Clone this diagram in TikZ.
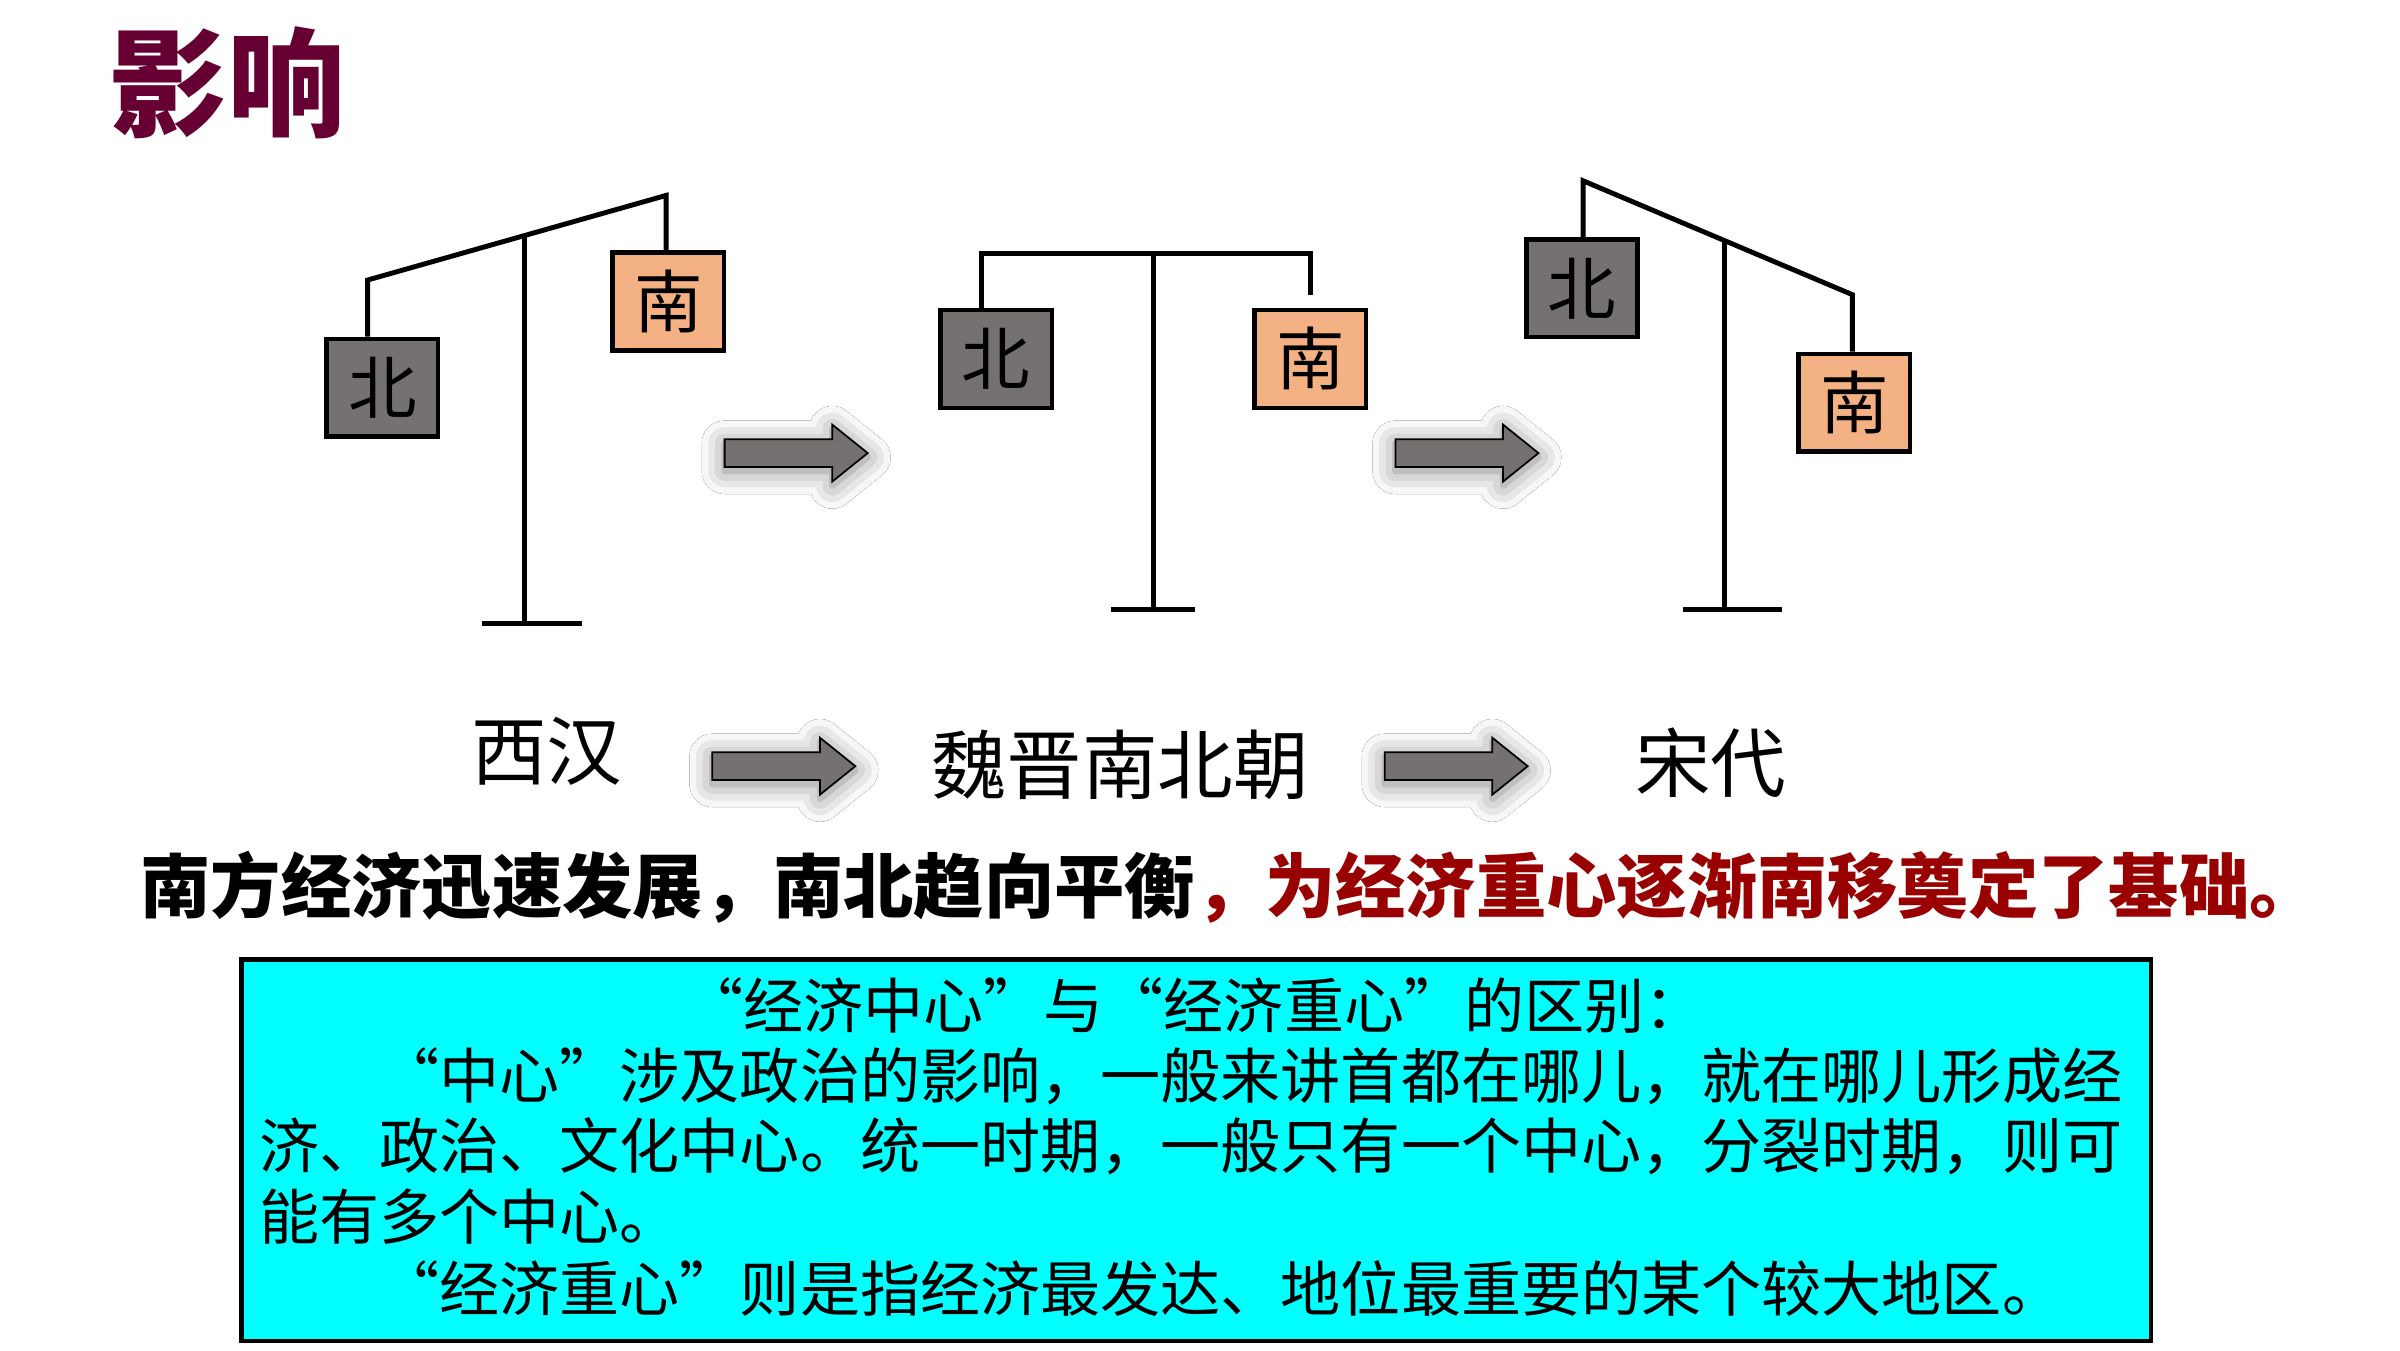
\documentclass[tikz,border=0pt]{standalone}
\usepackage{fontspec}
\setmainfont{Noto Sans CJK SC}
\newfontfamily\notefont[RawFeature=+fwid]{Noto Sans CJK SC}
\usetikzlibrary{shadows.blur}

\definecolor{titlered}{HTML}{660033}
\definecolor{sumred}{HTML}{990000}
\definecolor{northgray}{HTML}{767171}
\definecolor{southorange}{HTML}{F4B183}
\definecolor{notecyan}{HTML}{00FFFF}

\tikzset{
  beam/.style={line width=1.4pt, line join=miter},
  weight/.style={draw, line width=1.3pt, minimum width=31.7pt, minimum height=27.8pt,
    inner sep=0pt, text height=17.2pt, text depth=2.4pt, font=\fontsize{19.5}{19.5}\selectfont},
  northbox/.style={weight, fill=northgray},
  southbox/.style={weight, fill=southorange},
  fatarrow/.style={fill=northgray, draw=black, line width=0.5pt,
    blur shadow={shadow xshift=0pt, shadow yshift=-1.2pt, shadow blur radius=6.5pt, shadow opacity=50}},
  headline/.style={inner sep=0pt, text=titlered, text height=29.5pt, text depth=4pt,
    font=\fontsize{33.5}{33.5}\selectfont\bfseries},
  era/.style={inner sep=0pt, text height=18.9pt, text depth=2.6pt, font=\fontsize{21.5}{21.5}\selectfont},
  summary/.style={inner sep=0pt, text height=17.6pt, text depth=2.4pt, font=\fontsize{20}{20}\selectfont\bfseries},
  notebox/.style={fill=notecyan, draw=black, line width=1.3pt},
  noteline/.style={inner sep=0pt, text height=15pt, text depth=2.1pt, font=\notefont\fontsize{17.1}{17.1}\selectfont}
}

\begin{document}
\begin{tikzpicture}[x=0.15385mm,y=-0.15385mm]
  \useasboundingbox (0,0) rectangle (1560,877.5);
  \fill[white] (0,0) rectangle (1560,877.5);

  \node[headline, anchor=west] (ttl) at (71,54) {影响};

  % Xi Han: south side lighter
  \coordinate (lA) at (239,182);
  \coordinate (rA) at (433,127);
  \coordinate (pivA) at (341,153);
  \coordinate (footA) at (341,405);
  \node[northbox] (nA) at (248.5,252) {北};
  \node[southbox] (sA) at (434.5,196) {南};
  \draw[beam] (lA |- nA.north) -- (lA) -- (rA) -- (rA |- sA.north);
  \draw[beam] (pivA) -- (footA);
  \draw[beam] (313,405) -- (378,405);

  % Wei Jin: level
  \coordinate (lB) at (638,164.5);
  \coordinate (rB) at (852,164.5);
  \coordinate (hookB) at (852,191.5);
  \coordinate (footB) at (749.5,396);
  \node[northbox] (nB) at (647.5,233.3) {北};
  \node[southbox] (sB) at (851.8,233.3) {南};
  \draw[beam] (lB |- nB.north) -- (lB) -- (rB) -- (hookB);
  \draw[beam] (lB -| footB) -- (footB);
  \draw[beam] (722,396) -- (777,396);

  % Song: south side heavier
  \coordinate (lC) at (1029,117.5);
  \coordinate (rC) at (1204,191.5);
  \coordinate (pivC) at (1121,156.4);
  \coordinate (footC) at (1121,396);
  \node[northbox] (nC) at (1028.3,187.3) {北};
  \node[southbox] (sC) at (1205.3,261.8) {南};
  \draw[beam] (lC |- nC.north) -- (lC) -- (rC) -- (rC |- sC.north);
  \draw[beam] (pivC) -- (footC);
  \draw[beam] (1094,396) -- (1158,396);

  \foreach \ax/\ay in {471/294.5, 907/294.5, 463/498, 900/498}
    \draw[fatarrow] (\ax,\ay-9) -- ++(70,0) -- ++(0,-9.5) -- ++(23,18.5)
      -- ++(-23,18.5) -- ++(0,-9.5) -- ++(-70,0) -- cycle;

  \node[era] (eA) at (355.5,488) {西汉};
  \node[era] (eB) at (728,497) {魏晋南北朝};
  \node[era] (eC) at (1112,496) {宋代};

  \node[summary, anchor=west] (sum) at (91,576)
    {南方经济迅速发展，南北趋向平衡{\color{sumred}，为经济重心逐渐南移奠定了基础。}};

  \draw[notebox] (157,623.5) rectangle (1398,871.7);
  \node[noteline] (n1) at (776,654) {“经济中心”与“经济重心”的区别：};
  \node[noteline, anchor=west] (n2) at (168,699) {　　“中心”涉及政治的影响，一般来讲首都在哪儿，就在哪儿形成经};
  \node[noteline, anchor=west] (n3) at (168,745) {济、政治、文化中心。统一时期，一般只有一个中心，分裂时期，则可};
  \node[noteline, anchor=west] (n4) at (168,791) {能有多个中心。};
  \node[noteline, anchor=west] (n5) at (168,838) {　　“经济重心”则是指经济最发达、地位最重要的某个较大地区。};
\end{tikzpicture}
\end{document}
